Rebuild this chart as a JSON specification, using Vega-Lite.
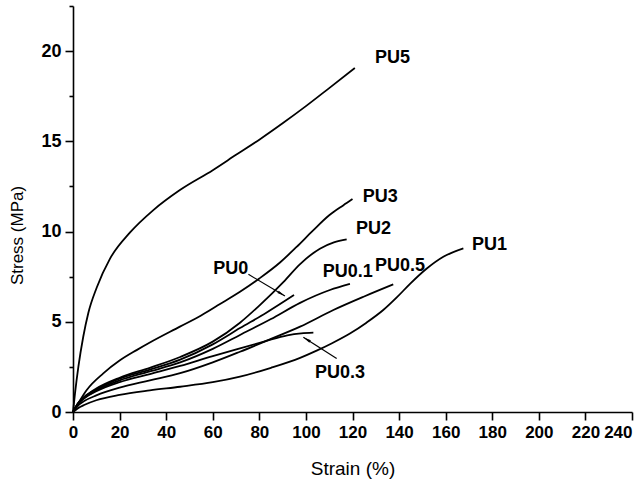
{
  "$schema": "https://vega.github.io/schema/vega-lite/v6.json",
  "width": 559,
  "height": 406,
  "autosize": "none",
  "padding": {"left": 73, "top": 6, "right": 3, "bottom": 69},
  "background": "white",
  "config": {
    "view": {"stroke": null},
    "axis": {
      "grid": false,
      "domainColor": "black",
      "domainWidth": 1.6,
      "tickColor": "black",
      "tickWidth": 1.6,
      "labelColor": "black",
      "labelFont": "Liberation Sans",
      "labelFontWeight": "bold",
      "labelOverlap": false,
      "labelFlush": false,
      "titleFont": "Liberation Sans",
      "titleFontWeight": "normal",
      "titleColor": "black"
    }
  },
  "layer": [
    {
      "data": {"values": [
        {"s":"PU5","x":0,"y":0},{"s":"PU5","x":0.86,"y":1.03},{"s":"PU5","x":2.3,"y":2.5},{"s":"PU5","x":4.4,"y":4.17},{"s":"PU5","x":6.6,"y":5.5},{"s":"PU5","x":10.2,"y":6.9},{"s":"PU5","x":15.9,"y":8.5},{"s":"PU5","x":24.5,"y":9.95},{"s":"PU5","x":34.5,"y":11.19},{"s":"PU5","x":45.9,"y":12.3},{"s":"PU5","x":60,"y":13.4},{"s":"PU5","x":70,"y":14.25},{"s":"PU5","x":80.3,"y":15.12},{"s":"PU5","x":90,"y":16.0},{"s":"PU5","x":100,"y":16.95},{"s":"PU5","x":110,"y":17.95},{"s":"PU5","x":121,"y":19.06},
        {"s":"PU3","x":0,"y":0},{"s":"PU3","x":2.3,"y":0.5},{"s":"PU3","x":5.9,"y":1.22},{"s":"PU3","x":13,"y":2.14},{"s":"PU3","x":20,"y":2.85},{"s":"PU3","x":27.3,"y":3.43},{"s":"PU3","x":33,"y":3.85},{"s":"PU3","x":45.9,"y":4.73},{"s":"PU3","x":55,"y":5.35},{"s":"PU3","x":62,"y":5.9},{"s":"PU3","x":71.7,"y":6.66},{"s":"PU3","x":80,"y":7.4},{"s":"PU3","x":89,"y":8.3},{"s":"PU3","x":96,"y":9.15},{"s":"PU3","x":103,"y":10.05},{"s":"PU3","x":110,"y":10.9},{"s":"PU3","x":116,"y":11.45},{"s":"PU3","x":120,"y":11.8},
        {"s":"PU2","x":0,"y":0},{"s":"PU2","x":2,"y":0.45},{"s":"PU2","x":5,"y":0.85},{"s":"PU2","x":10,"y":1.3},{"s":"PU2","x":20,"y":1.9},{"s":"PU2","x":33,"y":2.45},{"s":"PU2","x":46,"y":3.05},{"s":"PU2","x":60,"y":3.9},{"s":"PU2","x":71.7,"y":4.95},{"s":"PU2","x":80,"y":5.9},{"s":"PU2","x":90.3,"y":7.2},{"s":"PU2","x":97.5,"y":8.2},{"s":"PU2","x":106,"y":9.05},{"s":"PU2","x":112,"y":9.4},{"s":"PU2","x":117.5,"y":9.57},
        {"s":"PU0","x":0,"y":0},{"s":"PU0","x":2,"y":0.45},{"s":"PU0","x":5,"y":0.85},{"s":"PU0","x":10,"y":1.25},{"s":"PU0","x":20,"y":1.85},{"s":"PU0","x":33,"y":2.35},{"s":"PU0","x":46,"y":2.9},{"s":"PU0","x":60,"y":3.75},{"s":"PU0","x":71.7,"y":4.65},{"s":"PU0","x":83,"y":5.5},{"s":"PU0","x":94.9,"y":6.48},
        {"s":"PU0.1","x":0,"y":0},{"s":"PU0.1","x":2,"y":0.42},{"s":"PU0.1","x":5,"y":0.8},{"s":"PU0.1","x":10,"y":1.2},{"s":"PU0.1","x":20,"y":1.75},{"s":"PU0.1","x":33,"y":2.25},{"s":"PU0.1","x":46,"y":2.75},{"s":"PU0.1","x":60,"y":3.5},{"s":"PU0.1","x":71.7,"y":4.27},{"s":"PU0.1","x":85,"y":5.15},{"s":"PU0.1","x":97.5,"y":6.05},{"s":"PU0.1","x":110.3,"y":6.76},{"s":"PU0.1","x":118.9,"y":7.1},
        {"s":"PU0.3","x":0,"y":0},{"s":"PU0.3","x":2,"y":0.42},{"s":"PU0.3","x":5,"y":0.78},{"s":"PU0.3","x":10,"y":1.15},{"s":"PU0.3","x":20,"y":1.65},{"s":"PU0.3","x":33,"y":2.1},{"s":"PU0.3","x":46,"y":2.55},{"s":"PU0.3","x":60,"y":3.1},{"s":"PU0.3","x":71.7,"y":3.53},{"s":"PU0.3","x":82,"y":3.9},{"s":"PU0.3","x":92,"y":4.25},{"s":"PU0.3","x":98,"y":4.36},{"s":"PU0.3","x":103.2,"y":4.4},
        {"s":"PU0.5","x":0,"y":0},{"s":"PU0.5","x":2,"y":0.33},{"s":"PU0.5","x":5,"y":0.62},{"s":"PU0.5","x":10,"y":0.92},{"s":"PU0.5","x":20,"y":1.35},{"s":"PU0.5","x":33,"y":1.75},{"s":"PU0.5","x":46,"y":2.15},{"s":"PU0.5","x":60,"y":2.75},{"s":"PU0.5","x":71.7,"y":3.34},{"s":"PU0.5","x":85,"y":4.05},{"s":"PU0.5","x":97.5,"y":4.73},{"s":"PU0.5","x":111.8,"y":5.65},{"s":"PU0.5","x":125,"y":6.4},{"s":"PU0.5","x":137.5,"y":7.07},
        {"s":"PU1","x":0,"y":0},{"s":"PU1","x":2,"y":0.2},{"s":"PU1","x":5,"y":0.4},{"s":"PU1","x":10,"y":0.65},{"s":"PU1","x":20,"y":0.95},{"s":"PU1","x":33,"y":1.2},{"s":"PU1","x":46,"y":1.4},{"s":"PU1","x":60,"y":1.65},{"s":"PU1","x":71.7,"y":1.96},{"s":"PU1","x":85,"y":2.45},{"s":"PU1","x":97.5,"y":3.0},{"s":"PU1","x":104.6,"y":3.4},{"s":"PU1","x":111,"y":3.8},{"s":"PU1","x":118.9,"y":4.35},{"s":"PU1","x":126,"y":4.95},{"s":"PU1","x":133.2,"y":5.65},{"s":"PU1","x":139,"y":6.35},{"s":"PU1","x":144.7,"y":7.1},{"s":"PU1","x":151.9,"y":7.95},{"s":"PU1","x":159,"y":8.6},{"s":"PU1","x":167.6,"y":9.07}
      ]},
      "mark": {"type": "line", "interpolate": "monotone", "color": "black", "strokeWidth": 1.8},
      "encoding": {
        "x": {
          "field": "x", "type": "quantitative",
          "scale": {"domain": [0, 240], "nice": false, "zero": false},
          "axis": {
            "title": "Strain (%)",
            "titleFontSize": 19,
            "labelFontSize": 17,
            "values": [0,10,20,30,40,50,60,70,80,90,100,110,120,130,140,150,160,170,180,190,200,210,220,230,240],
            "labelExpr": "datum.value % 20 === 0 ? datum.label : ''",
            "labelAlign": {"condition": {"test": "datum.value === 240", "value": "right"}, "value": "center"},
            "tickSize": {"condition": {"test": "datum.value % 20 === 0", "value": 8}, "value": 4},
            "labelPadding": 4,
            "titleX": 279.5, "titleY": 56, "titleBaseline": "middle", "titleAlign": "center"
          }
        },
        "y": {
          "field": "y", "type": "quantitative",
          "scale": {"domain": [0, 22.5], "nice": false, "zero": false},
          "axis": {
            "title": "Stress (MPa)",
            "titleFontSize": 17,
            "labelFontSize": 18,
            "values": [0,2.5,5,7.5,10,12.5,15,17.5,20,22.5],
            "labelExpr": "datum.value % 5 === 0 ? datum.label : ''",
            "tickSize": {"condition": {"test": "datum.value % 5 === 0", "value": 8}, "value": 4},
            "labelPadding": 4,
            "titleX": -56, "titleY": 229, "titleBaseline": "middle", "titleAlign": "center", "titleAngle": -90
          }
        },
        "detail": {"field": "s"},
        "order": {"field": "x", "type": "quantitative"}
      }
    },
    {
      "data": {"values": [
        {"a":"PU0","x":75.3,"y":7.63,"x2":91.0,"y2":6.43},
        {"a":"PU0.3","x":113.2,"y":2.97,"x2":98.9,"y2":4.14}
      ]},
      "mark": {"type": "rule", "color": "black", "strokeWidth": 1.2},
      "encoding": {
        "x": {"field": "x", "type": "quantitative"},
        "y": {"field": "y", "type": "quantitative"},
        "x2": {"field": "x2"},
        "y2": {"field": "y2"}
      }
    },
    {
      "data": {"values": [
        {"a":"PU0","x2":91.0,"y2":6.43,"ang":120.7},
        {"a":"PU0.3","x2":98.9,"y2":4.14,"ang":302.2}
      ]},
      "mark": {"type": "point", "shape": "M0,0L0.35,2L-0.35,2Z", "filled": true, "color": "black", "size": 64, "opacity": 1},
      "encoding": {
        "x": {"field": "x2", "type": "quantitative"},
        "y": {"field": "y2", "type": "quantitative"},
        "angle": {"field": "ang", "type": "quantitative", "scale": null}
      }
    },
    {
      "data": {"values": [
        {"t":"PU5","x":129.7,"y":19.6},
        {"t":"PU3","x":124.4,"y":11.93},
        {"t":"PU2","x":121.5,"y":10.12},
        {"t":"PU0.1","x":107.2,"y":7.77},
        {"t":"PU0.5","x":129.7,"y":8.09},
        {"t":"PU0","x":60.2,"y":7.9},
        {"t":"PU0.3","x":103.9,"y":2.18},
        {"t":"PU1","x":171.3,"y":9.25}
      ]},
      "mark": {"type": "text", "align": "left", "baseline": "middle", "font": "Liberation Sans", "fontWeight": "bold", "fontSize": 18, "color": "black"},
      "encoding": {
        "x": {"field": "x", "type": "quantitative"},
        "y": {"field": "y", "type": "quantitative"},
        "text": {"field": "t"}
      }
    }
  ]
}
